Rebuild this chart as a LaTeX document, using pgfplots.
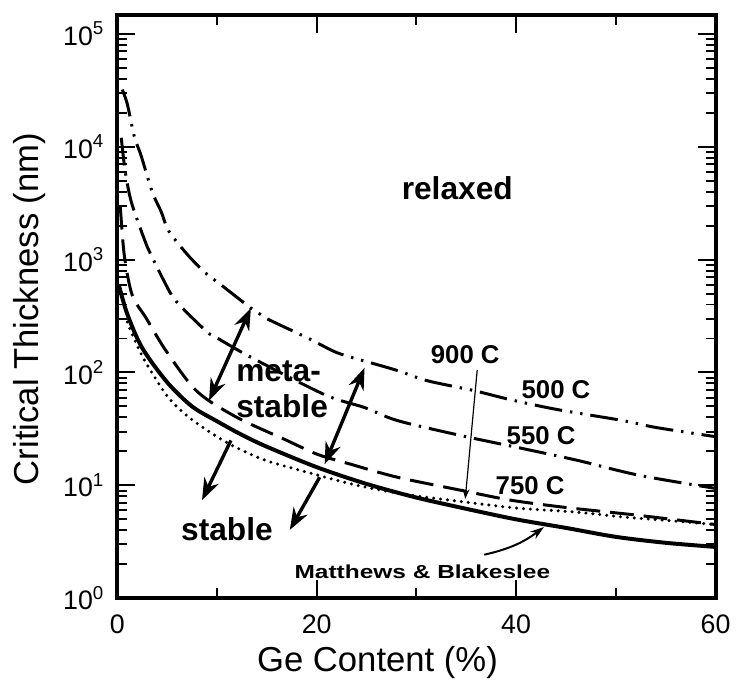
\documentclass[border=0pt]{standalone}
\usepackage{fontspec}
\setmainfont{Liberation Sans}
\usepackage{graphicx}
\usepackage{pgfplots}
\pgfplotsset{compat=1.18}
\usetikzlibrary{arrows.meta}
\begin{document}
\begin{tikzpicture}
\begin{axis}[
  scale only axis,
  width=301bp, height=293.5bp,
  xmin=0, xmax=60,
  ymode=log, ymin=1, ymax=1.47e5,
  xtick={0,20,40,60},
  minor xtick={10,30,50},
  ytick={1,10,100,1000,10000,100000},
  yticklabels={10\textsuperscript{0},10\textsuperscript{1},10\textsuperscript{2},10\textsuperscript{3},10\textsuperscript{4},10\textsuperscript{5}},
  minor ytick={2,3,4,5,6,7,8,9,20,30,40,50,60,70,80,90,200,300,400,500,600,700,800,900,2000,3000,4000,5000,6000,7000,8000,9000,20000,30000,40000,50000,60000,70000,80000,90000},
  /pgf/number format/assume math mode=true,
  tick align=inside,
  major tick length=9bp, minor tick length=5bp,
  every tick/.style={black, line width=1bp},
  axis line style={line width=2bp},
  tick label style={font=\fontsize{13.5}{15}\selectfont},
  xticklabel style={yshift=-5bp},
  yticklabel style={xshift=-3bp},
  xlabel={Ge Content (\%)},
  ylabel={Critical Thickness (nm)},
  label style={font=\fontsize{17.5}{19}\selectfont},
  xlabel style={at={(axis description cs:0.435,-0.11)}, anchor=center, inner sep=1pt},
  ylabel style={at={(axis description cs:-0.146,0.496)}, anchor=center},
]
% 500 C (dash-dot-dot)
\addplot[black, line width=1.5bp, smooth, tension=0.5, dash pattern=on 14bp off 4bp on 1.2bp off 4bp on 1.2bp off 4bp] coordinates {
(0.5,32000) (1.0,24000) (1.7,12400) (2.4,8280) (3.5,3990) (4.4,2660) (5.2,1770) (7.2,1067) (9.0,741) (10.2,617) (13.4,372) (14.9,303) (19.1,202) (22.1,149) (25.4,122) (28.1,104) (31.1,84.5) (35.8,69) (39.4,57.5) (44.1,47) (50.7,37.5) (54,32.6) (60,27)
};
% 550 C (dash-dot)
\addplot[black, line width=1.5bp, smooth, tension=0.5, dash pattern=on 14bp off 4bp on 1.2bp off 4bp] coordinates {
(0.4,12000) (0.8,6000) (1.4,3260) (2.5,1700) (3.0,1300) (4.7,643) (5.9,428) (8.9,233) (9.9,205) (13.5,135) (20.8,63.6) (24.8,48.9) (28.1,37.5) (34.4,27.7) (40.1,21.7) (46.1,16.7) (52.3,12.3) (60,9.4)
};
% 750 C (dashed)
\addplot[black, line width=1.5bp, smooth, tension=0.5, dash pattern=on 12bp off 5bp] coordinates {
(0.3,3000) (0.7,1100) (1.5,484) (2.9,303) (4.9,155) (8,68) (12,40) (16.8,25.5) (20.1,18.8) (23.4,15.4) (28.1,11.8) (34.4,9.07) (39.4,7.41) (44.8,6.4) (52,5.46) (60,4.5)
};
% 900 C (dotted)
\addplot[black, line width=1.7bp, smooth, tension=0.5, line cap=round, dash pattern=on 0bp off 3.5bp] coordinates {
(1.0,280) (2.5,140) (5,62) (7.2,40) (10,27) (12,21.5) (15,16.5) (20,12.4) (22,11.1) (25,9.6) (29.4,8.2) (35,7.1) (40,6.3) (46,5.8) (50.7,5.25) (55,4.9) (60,4.5)
};
% Matthews & Blakeslee (solid)
\addplot[black, line width=2bp, smooth, tension=0.5] coordinates {
(0.15,600) (1,330) (2.5,165) (5,82) (7.5,50) (10,37) (12.5,28) (15,22) (20,14.5) (25,10.3) (30,7.8) (35,6.2) (40,5.0) (45,4.2) (50,3.5) (55,3.1) (60,2.85)
};
% labels
\node[font=\bfseries\fontsize{16}{18}\selectfont] at (axis cs:34.1,4310) {relaxed};
\node[font=\bfseries\fontsize{13}{15}\selectfont] at (axis cs:34.9,143) {900 C};
\node[font=\bfseries\fontsize{13}{15}\selectfont] at (axis cs:44.0,70.4) {500 C};
\node[font=\bfseries\fontsize{13}{15}\selectfont] at (axis cs:42.5,27.3) {550 C};
\node[font=\bfseries\fontsize{13}{15}\selectfont] at (axis cs:41.4,10.0) {750 C};
\node[font=\bfseries\fontsize{16}{18}\selectfont, align=left, anchor=west, inner sep=0pt] at (axis cs:11.9,70.5) {meta-\\stable};
\node[font=\bfseries\fontsize{16}{18}\selectfont] at (axis cs:11.0,4.11) {stable};
\node[font=\bfseries\fontsize{9.5}{11}\selectfont] at (axis cs:30.6,1.72) {\scalebox{1.3}[1]{Matthews \& Blakeslee}};
% arrows
\draw[line width=1.7bp, {Stealth[length=11bp,width=8bp]}-{Stealth[length=11bp,width=8bp]}] (axis cs:13.4,372) -- (axis cs:9.2,56.3);
\draw[line width=1.7bp, {Stealth[length=11bp,width=8bp]}-{Stealth[length=11bp,width=8bp]}] (axis cs:24.8,110) -- (axis cs:20.8,15.4);
\draw[line width=1.7bp, -{Stealth[length=11bp,width=8bp]}] (axis cs:11.4,25) -- (axis cs:8.5,7.4);
\draw[line width=1.7bp, -{Stealth[length=11bp,width=8bp]}] (axis cs:20.3,11.8) -- (axis cs:17.3,4.03);
\draw[line width=0.6bp, -{Stealth[length=5bp,width=3.5bp]}] (axis cs:36.1,105.6) -- (axis cs:34.9,7.6);
\draw[line width=1bp, -{Stealth[length=7bp,width=4.5bp]}] (axis cs:36.8,2.43) to[bend right=12] (axis cs:42.8,4.28);
\end{axis}
\path (current axis.south west) +(-59bp,-48.5bp) (current axis.north east) +(8.5bp,7.5bp);
\end{tikzpicture}
\end{document}
